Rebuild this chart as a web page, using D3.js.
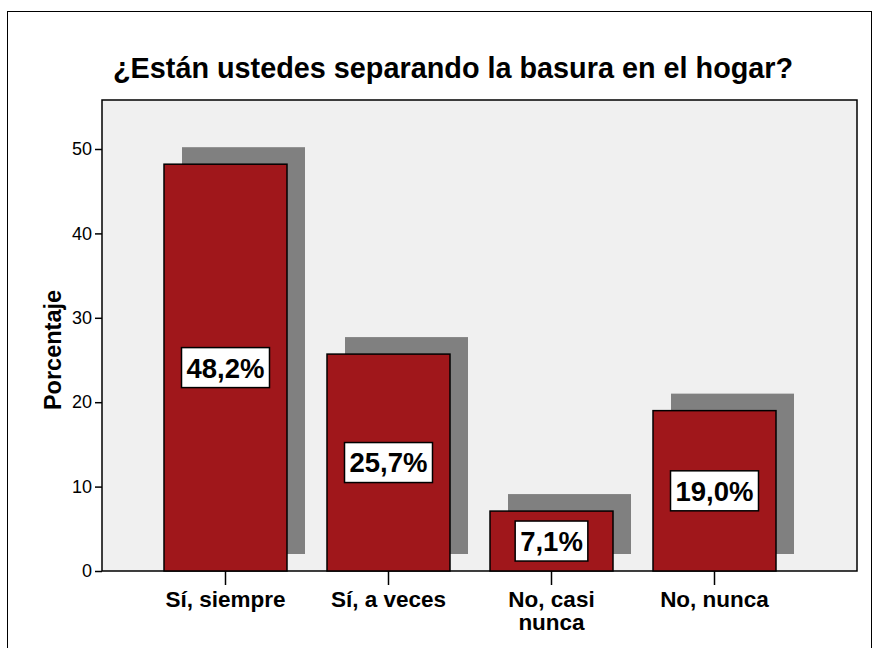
<!DOCTYPE html>
<html>
<head>
<meta charset="utf-8">
<script src="https://cdn.jsdelivr.net/npm/d3@7"></script>
<style>
  body { margin: 0; background: #fff; }
  text { font-family: "Liberation Sans", Arial, sans-serif; }
</style>
</head>
<body>
<div id="wrapper"></div>
<script>
// Data
const categories = [["Sí, siempre"], ["Sí, a veces"], ["No, casi", "nunca"], ["No, nunca"]];
const percentages = [48.2, 25.7, 7.1, 19.0];
const valueLabels = ["48,2%", "25,7%", "7,1%", "19,0%"];
const yTicks = [0, 10, 20, 30, 40, 50];

const width = 875;
const height = 648;

const plot = { left: 102, top: 100, right: 857, bottom: 571 };

const svg = d3
  .select("#wrapper")
  .append("svg")
  .attr("width", width)
  .attr("height", height);

// outer frame
svg
  .append("rect")
  .attr("x", 7.5)
  .attr("y", 11.5)
  .attr("width", 864)
  .attr("height", 660)
  .attr("fill", "none")
  .attr("stroke", "black")
  .attr("stroke-width", 1);

// title
svg
  .append("text")
  .attr("x", 113)
  .attr("y", 78)
  .text("¿Están ustedes separando la basura en el hogar?")
  .style("font-size", "28.8px")
  .style("font-weight", "bold");

// plot area
svg
  .append("rect")
  .attr("x", plot.left)
  .attr("y", plot.top)
  .attr("width", plot.right - plot.left)
  .attr("height", plot.bottom - plot.top)
  .attr("fill", "#f0f0f0")
  .attr("stroke", "black")
  .attr("stroke-width", 1.5);

// scales
const idx = d3.range(categories.length);
const pad = 40 / 163;
const xScale = d3
  .scaleBand()
  .domain(idx)
  .range([124, 124 + 163 * (categories.length + pad)])
  .padding(pad);

const yScale = d3.scaleLinear().domain([0, 50]).range([plot.bottom, 149]);

const shadowDx = 18;
const shadowDy = 17;

// shadows
svg
  .append("g")
  .selectAll("rect")
  .data(idx)
  .join("rect")
  .attr("x", (i) => xScale(i) + shadowDx)
  .attr("y", (i) => yScale(percentages[i]) - shadowDy)
  .attr("width", xScale.bandwidth())
  .attr("height", (i) => yScale(0) - yScale(percentages[i]))
  .attr("fill", "#808080");

// bars
svg
  .append("g")
  .selectAll("rect")
  .data(idx)
  .join("rect")
  .attr("x", (i) => xScale(i))
  .attr("y", (i) => yScale(percentages[i]))
  .attr("width", xScale.bandwidth())
  .attr("height", (i) => yScale(0) - yScale(percentages[i]))
  .attr("fill", "#a0171b")
  .attr("stroke", "black")
  .attr("stroke-width", 1.5);

// value labels
const labels = svg
  .append("g")
  .selectAll("g")
  .data(idx)
  .join("g")
  .attr(
    "transform",
    (i) =>
      `translate(${xScale(i) + xScale.bandwidth() / 2}, ${yScale(percentages[i] / 2)})`
  );

labels
  .append("text")
  .attr("text-anchor", "middle")
  .attr("dy", "0.36em")
  .text((i) => valueLabels[i])
  .style("font-size", "27.5px")
  .style("font-weight", "bold")
  .each(function () {
    const b = this.getBBox();
    d3.select(this.parentNode)
      .insert("rect", "text")
      .attr("x", b.x - 5)
      .attr("y", -20)
      .attr("width", b.width + 10)
      .attr("height", 40)
      .attr("fill", "white")
      .attr("stroke", "black")
      .attr("stroke-width", 1.5);
  });

// y axis
const yAxis = svg
  .append("g")
  .attr("transform", `translate(${plot.left},0)`)
  .call(d3.axisLeft(yScale).tickValues(yTicks).tickSize(7).tickPadding(3));
yAxis.select(".domain").remove();
yAxis.selectAll("line").attr("stroke", "black").attr("stroke-width", 1.5);
yAxis
  .selectAll("text")
  .attr("fill", "black")
  .style("font-size", "18px")
  .style("font-family", "'Liberation Sans', Arial, sans-serif");

svg
  .append("text")
  .attr("transform", `translate(61, 350) rotate(-90)`)
  .attr("text-anchor", "middle")
  .text("Porcentaje")
  .style("font-size", "23.5px")
  .style("font-weight", "bold");

// x axis
const xTicks = svg.append("g").selectAll("g").data(idx).join("g")
  .attr("transform", (i) => `translate(${xScale(i) + xScale.bandwidth() / 2}, ${plot.bottom})`);

xTicks
  .append("line")
  .attr("y1", 0)
  .attr("y2", 14)
  .attr("stroke", "black")
  .attr("stroke-width", 1.5);

xTicks
  .append("text")
  .attr("text-anchor", "middle")
  .style("font-size", "22.5px")
  .style("font-weight", "bold")
  .selectAll("tspan")
  .data((i) => categories[i])
  .join("tspan")
  .attr("x", 0)
  .attr("y", (d, j) => 36 + j * 23)
  .text((d) => d);
</script>
</body>
</html>
